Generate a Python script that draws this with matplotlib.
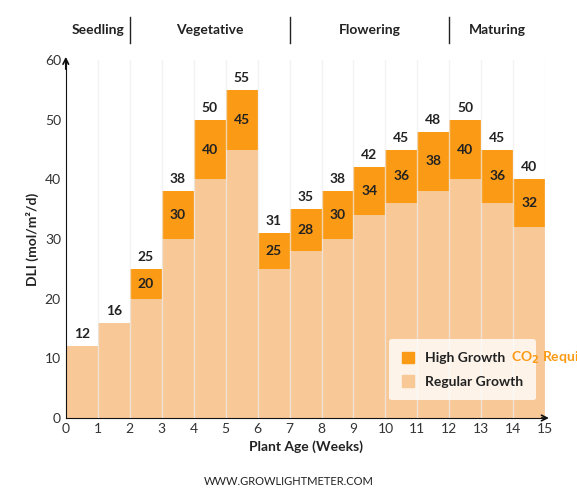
import matplotlib.pyplot as plt
from matplotlib.patches import Patch

plt.rcParams['font.family'] = ['Lato', 'DejaVu Sans']

weeks = list(range(15))
regular = [12, 16, 20, 30, 40, 45, 25, 28, 30, 34, 36, 38, 40, 36, 32]
high = [None, None, 25, 38, 50, 55, 31, 35, 38, 42, 45, 48, 50, 45, 40]
phases = ['Seedling', 'Vegetative', 'Flowering', 'Maturing']
phase_centers = [1, 4.5, 9.5, 13.5]
phase_breaks = [2, 7, 12]

c_high = '#fb9a14'
c_reg = '#f8c897'

fig = plt.figure(figsize=(5.77, 5), dpi=100)
ax = fig.add_axes([0.114, 0.164, 0.831, 0.716])

for w, r, h in zip(weeks, regular, high):
    if h is not None:
        ax.bar(w, h, width=1, align='edge', color=c_high, zorder=1)
        ax.text(w + 0.5, h + 1, str(h), ha='center', va='bottom',
                fontsize=10, fontweight='bold', color='#222222')
        ax.text(w + 0.5, r + (h - r) / 2, str(r), ha='center', va='center',
                fontsize=10, fontweight='bold', color='#222222', zorder=4)
    else:
        ax.text(w + 0.5, r + 1, str(r), ha='center', va='bottom',
                fontsize=10, fontweight='bold', color='#222222')
    ax.bar(w, r, width=1, align='edge', color=c_reg, zorder=2)

for x in range(1, 16):
    ax.axvline(x, color='#eeeeee', lw=1, alpha=0.7, zorder=3)

ax.set_xlim(0, 15)
ax.set_ylim(0, 60)
ax.set_xticks(range(16))
ax.set_yticks(range(0, 61, 10))
ax.tick_params(length=0, labelsize=10, colors='#333333')
for s in ['top', 'right']:
    ax.spines[s].set_visible(False)
ax.spines['left'].set_color('#111111')
ax.spines['bottom'].set_color('#111111')
ax.annotate('', xy=(0, 61), xytext=(0, 58), xycoords='data',
            arrowprops=dict(arrowstyle='->', color='#111111', lw=1.2), annotation_clip=False)
ax.annotate('', xy=(15.2, 0), xytext=(14.8, 0), xycoords='data',
            arrowprops=dict(arrowstyle='->', color='#111111', lw=1.2), annotation_clip=False)
ax.set_xlabel('Plant Age (Weeks)', fontsize=10, fontweight='bold', color='#222222', labelpad=4)
ax.set_ylabel('DLI (mol/m²/d)', fontsize=10, fontweight='bold', color='#222222')

for name, c in zip(phases, phase_centers):
    ax.text(c, 65, name, ha='center', va='center', fontsize=10,
            fontweight='bold', color='#222222', clip_on=False)
for b in phase_breaks:
    ax.plot([b, b], [62.8, 67.2], color='#222222', lw=1, clip_on=False)

handles = [Patch(color=c_high), Patch(color=c_reg)]
leg = ax.legend(handles, ['High Growth' + ' ' * 27, 'Regular Growth'], loc='lower right',
                bbox_to_anchor=(0.995, 0.03), frameon=True, fontsize=10,
                handlelength=0.9, handleheight=0.9, borderpad=0.9, labelspacing=0.8)
leg.get_frame().set_edgecolor('none')
leg.get_frame().set_facecolor('white')
leg.set_zorder(5)
for t in leg.get_texts():
    t.set_fontweight('bold')
    t.set_color('#222222')
fig.canvas.draw()
tx = leg.get_texts()[0]
tx.set_text('High Growth')
fig.canvas.draw()
bb = tx.get_window_extent()
x0, y0 = fig.transFigure.inverted().transform((bb.x1 + 5, (bb.y0 + bb.y1) / 2))
fig.text(x0, y0, 'CO$_\\mathbf{2}$ Required', color=c_high, fontsize=10,
         fontweight='bold', va='center', zorder=6)

fig.text(0.5, 0.03, 'WWW.GROWLIGHTMETER.COM', ha='center', fontsize=8, color='#222222')
fig.savefig('out.png')
